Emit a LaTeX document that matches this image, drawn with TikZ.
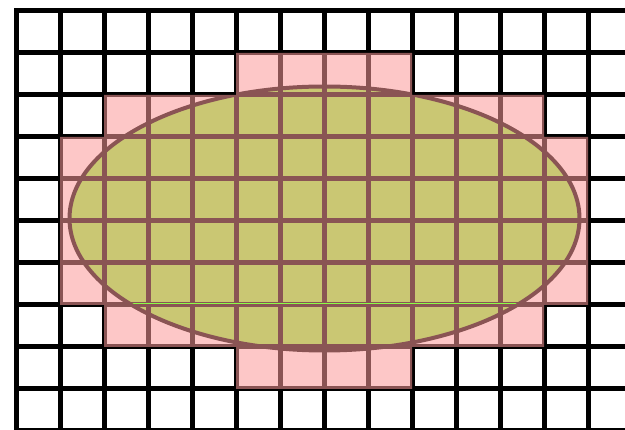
\documentclass[tikz,border=0pt]{standalone}
\definecolor{ellfill}{RGB}{140,255,69}
\definecolor{overlay}{RGB}{253,153,153}
\tikzset{
  gridline/.style={draw=black, line width=5pt, line cap=rect},
  ellshape/.style={fill=ellfill, draw=black, line width=4pt},
  pinkcells/.style={fill=overlay, fill opacity=0.55},
  seam/.style={draw=ellfill, line width=1pt}
}
\begin{document}
\begin{tikzpicture}[x=1pt,y=-1pt]
\useasboundingbox (0,0) rectangle (625,430);
\clip (0,0) rectangle (625,430);
\fill[white] (0,0) rectangle (625,430);
% ellipse
\path[ellshape] (324.5,218.5) ellipse [x radius=255pt, y radius=132pt];
\begin{scope}[shift={(16,11)}, x=44pt, y=-42pt]
  % grid
  \foreach \i in {0,...,14} \draw[gridline] (\i,0) -- (\i,10);
  \foreach \j in {0,...,10} \draw[gridline] (0,\j) -- (14,\j);
  % translucent cells
  \path[pinkcells]
    (5,1) rectangle (9,2)
    (2,2) rectangle (12,3)
    (1,3) rectangle (13,7)
    (2,7) rectangle (12,8)
    (5,8) rectangle (9,9);
\end{scope}
% thin seam showing the ellipse colour
\begin{scope}
  \clip (324.5,218.5) ellipse [x radius=253pt, y radius=130pt];
  \draw[seam] (60,303.2) -- (590,303.2);
\end{scope}
\end{tikzpicture}
\end{document}
